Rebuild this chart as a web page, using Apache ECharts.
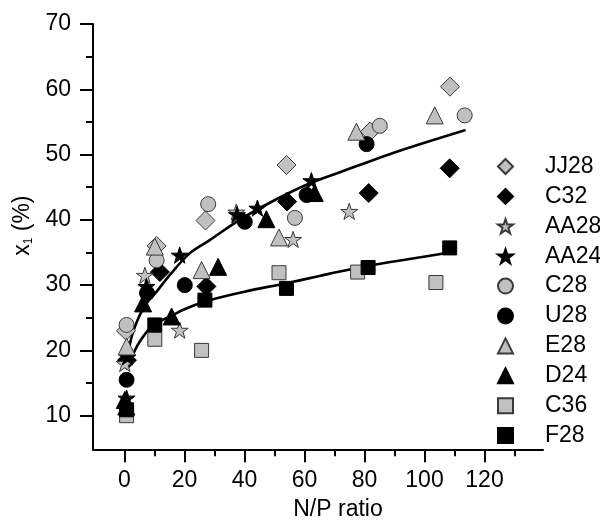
<!DOCTYPE html>
<html><head><meta charset="utf-8">
<script src="https://cdn.jsdelivr.net/npm/echarts@6/dist/echarts.min.js"></script>
<style>html,body{margin:0;padding:0;background:#fff}#c{width:600px;height:528px}</style>
</head><body><div id="c"></div><script>
// data: [N/P ratio, x1 (%)]
const JJ28 = [[108.5,60.4],[81.8,53.5],[54,48.4],[27,39.9],[10.7,36.0],[0.5,23.0]];
const C32  = [[108.4,47.9],[81.4,44.1],[54.2,42.8],[27.3,29.8],[11.8,32.0],[0.8,18.5]];
const AA28 = [[74.9,41.3],[56.2,37.0],[37.3,41.2],[18.4,23.1],[6.8,31.5],[0.1,18.0]];
const AA24 = [[62.3,46.0],[44.3,41.8],[37.5,40.8],[18.4,34.6],[7.3,29.8],[0.7,12.7],[1.0,19.0]];
const C28  = [[113.4,56.0],[85.1,54.4],[56.8,40.3],[27.9,42.4],[10.7,33.8],[0.7,23.9]];
const U28  = [[80.7,51.6],[60.7,43.8],[40.1,39.7],[20.1,30.0],[7.5,28.8],[0.7,15.5]];
const E28  = [[103.4,56.0],[77.3,53.5],[51.5,37.3],[25.7,32.3],[10.1,35.9],[0.7,20.6]];
const D24  = [[63.4,44.1],[47.3,40.1],[31.2,32.8],[15.7,25.2],[6.2,27.2],[0.1,12.4],[0.6,11.4]];
const C36  = [[103.8,30.4],[77.7,32.0],[51.5,31.9],[25.7,20.0],[10.1,21.7],[0.7,10.0]];
const F28  = [[108.4,35.7],[81.2,32.7],[54,29.5],[26.8,27.7],[10.1,23.9],[0.7,10.9]];
// fitted curves
const fitUpper = [[1.2,19.5],[2.5,22.3],[4.4,24.7],[7,27],[10.7,29.0],[15,31.5],[21.8,34.9],[28.4,36.9],[38.4,40.0],[50,43],[61.8,45.6],[71.8,47.3],[78.4,48.4],[90,50.3],[100,51.8],[113.7,53.75]];
const fitLower = [[1.2,18.0],[2.9,19.5],[5,21.3],[8.5,23.4],[12,24.5],[16,25.4],[20,26.3],[26.8,27.5],[40,29.0],[54,30.3],[65,31.4],[71.8,32.1],[80.7,32.9],[95,34.0],[108.4,35.0]];
// ticks
const xMajor = [0,20,40,60,80,100,120];
const xMinor = [10,30,50,70,90,110,130];
const yMajor = [10,20,30,40,50,60,70];
const yMinor = [15,25,35,45,55,65];

const GRAY = '#c0c0c0', BLACK = '#000', EDGE = '#3a3a3a';
const STAR = 'path://M50,0 L61.5,34.5 L97.5,34.5 L68.5,56 L79.4,90.5 L50,69.5 L20.6,90.5 L31.5,56 L2.5,34.5 L38.5,34.5 Z';
const FONT = "'Liberation Sans', Arial, sans-serif";
const FS = 23;

function sc(name, data, symbol, size, fill) {
  return {
    name, type: 'scatter', data, symbol, symbolSize: size, symbolKeepAspect: true,
    itemStyle: { color: fill, borderColor: fill === GRAY ? EDGE : '#000', borderWidth: 1, opacity: 1 },
    emphasis: { disabled: true }, z: 3
  };
}
function curve(data) {
  return { type: 'line', data, smooth: 0.35, showSymbol: false, symbol: 'none',
    lineStyle: { color: '#000', width: 2.6 }, z: 2, silent: true };
}

const chart = echarts.init(document.getElementById('c'), null, { renderer: 'canvas' });
const lineOn = { show: true, onZero: false, lineStyle: { color: '#000', width: 2 } };
const lineOff = { show: false, onZero: false };
chart.setOption({
  animation: false,
  backgroundColor: '#fff',
  textStyle: { fontFamily: FONT },
  grid: { left: 93, right: 57, top: 24, bottom: 78.7, containLabel: false },
  xAxis: [
    {
      type: 'value', min: -10.5, max: 139.5, axisLine: lineOn, splitLine: { show: false },
      name: 'N/P ratio', nameLocation: 'middle', nameGap: 49,
      nameTextStyle: { fontSize: FS, color: '#000', fontFamily: FONT, padding: [0,0,0,40] },
      axisTick: { show: true, customValues: xMajor, length: 13, lineStyle: { color: '#000', width: 2 } },
      axisLabel: { customValues: xMajor, fontSize: FS, color: '#000', margin: 20, fontFamily: FONT }
    },
    {
      type: 'value', min: -10.5, max: 139.5, position: 'bottom', axisLine: lineOff, splitLine: { show: false },
      axisTick: { show: true, customValues: xMinor, length: 7, lineStyle: { color: '#000', width: 2 } },
      axisLabel: { show: false }
    }
  ],
  yAxis: [
    {
      type: 'value', min: 4.85, max: 70, axisLine: lineOn, splitLine: { show: false },
      name: '{a|x}{s|1}{a| (%)}', nameLocation: 'middle', nameGap: 55,
      nameTextStyle: { color: '#000', fontFamily: FONT, padding: [0,0,0,22],
        rich: { a: { fontSize: FS, fontFamily: FONT, color: '#000' },
                s: { fontSize: 12, fontFamily: FONT, color: '#000', verticalAlign: 'bottom', padding: [8,0,0,0] } } },
      axisTick: { show: true, customValues: yMajor, length: 13, lineStyle: { color: '#000', width: 2 } },
      axisLabel: { customValues: yMajor, fontSize: FS, color: '#000', margin: 22, fontFamily: FONT }
    },
    {
      type: 'value', min: 4.85, max: 70, position: 'left', axisLine: lineOff, splitLine: { show: false },
      axisTick: { show: true, customValues: yMinor, length: 7, lineStyle: { color: '#000', width: 2 } },
      axisLabel: { show: false }
    }
  ],
  legend: {
    orient: 'vertical', left: 492, top: 150, itemWidth: 15, itemHeight: 15, itemGap: 6.9,
    selectedMode: false,
    formatter: name => '{g|}{t|' + name + '}',
    textStyle: { fontSize: FS, color: '#000', fontFamily: FONT,
      rich: { g: { width: 27, height: 23 }, t: { fontSize: FS, fontFamily: FONT, color: '#000', lineHeight: 23 } } },
    data: ['JJ28','C32','AA28','AA24','C28','U28','E28','D24','C36','F28']
  },
  series: [
    curve(fitUpper), curve(fitLower),
    sc('JJ28', JJ28, 'diamond', 19, GRAY),
    sc('C32', C32, 'diamond', 19, BLACK),
    sc('AA28', AA28, STAR, 17, GRAY),
    sc('AA24', AA24, STAR, 17, BLACK),
    sc('C28', C28, 'circle', 15, GRAY),
    sc('U28', U28, 'circle', 15, BLACK),
    sc('E28', E28, 'triangle', 17, GRAY),
    sc('D24', D24, 'triangle', 17, BLACK),
    sc('C36', C36, 'rect', 14, GRAY),
    sc('F28', F28, 'rect', 14, BLACK)
  ]
});
</script></body></html>
